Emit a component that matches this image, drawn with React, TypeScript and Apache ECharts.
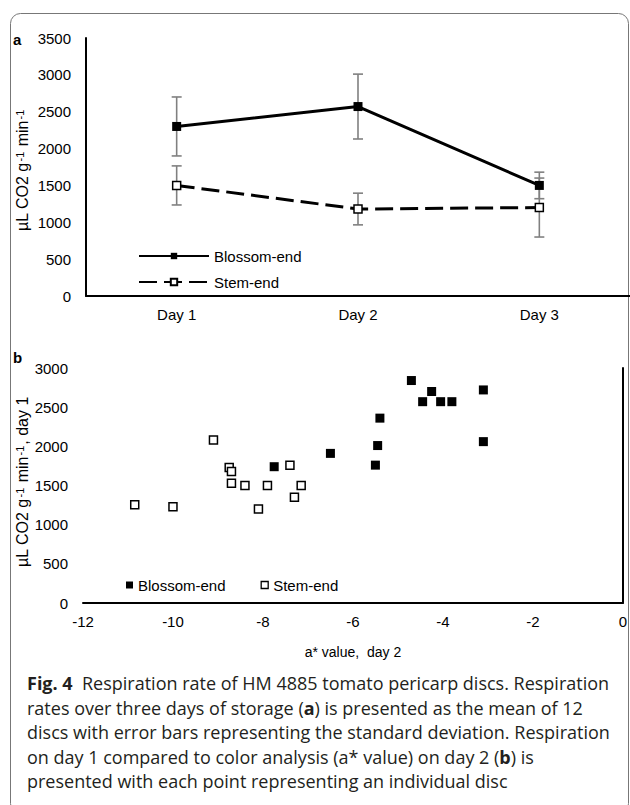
import React, { useEffect, useRef } from "react";
import * as echarts from "echarts";

// ---------- data (panel a) ----------
const days = ["Day 1", "Day 2", "Day 3"];
const blossomMean = [2300, 2570, 1500];
const blossomSd = [400, 440, 180];
const stemMean = [1500, 1180, 1200];
const stemSd = [265, 215, 400];
const yMinA = 0;
const yMaxA = 3500;
const yStepA = 500;

// ---------- data (panel b) ----------
const blossomAstar = [-7.75, -6.5, -5.5, -5.45, -5.4, -4.7, -4.45, -4.25, -4.05, -3.8, -3.1, -3.1];
const blossomResp = [1740, 1910, 1760, 2010, 2360, 2840, 2570, 2700, 2570, 2570, 2720, 2060];
const stemAstar = [-10.85, -10.0, -9.1, -8.75, -8.7, -8.7, -8.4, -8.1, -7.9, -7.4, -7.3, -7.15];
const stemResp = [1255, 1230, 2080, 1730, 1680, 1530, 1500, 1200, 1500, 1760, 1350, 1500];
const xMinB = -12;
const xMaxB = 0;
const xStepB = 2;
const yMinB = 0;
const yMaxB = 3000;
const yStepB = 500;

const captionLines = [
  "{b|Fig. 4}{r|  Respiration rate of HM 4885 tomato pericarp discs. Respiration}",
  "{r|rates over three days of storage (}{b|a}{r|) is presented as the mean of 12}",
  "{r|discs with error bars representing the standard deviation. Respiration}",
  "{r|on day 1 compared to color analysis (a* value) on day 2 (}{b|b}{r|) is}",
  "{r|presented with each point representing an individual disc}",
];

const FONT = "Liberation Sans, Arial, sans-serif";
const CAP_FONT = "Open Sans, Noto Sans, sans-serif";

export default function App() {
  const ref = useRef<HTMLDivElement>(null);

  useEffect(() => {
    document.body.style.margin = "0";
    if (!ref.current) return;
    const chart = echarts.init(ref.current, undefined, { renderer: "svg" });

    const errData = (mean: number[], sd: number[]) =>
      mean.map((m, i) => [i, m - sd[i], m + sd[i]]);

    const renderErr = (params: any, api: any) => {
      const x = api.value(0);
      const lo = api.coord([x, api.value(1)]);
      const hi = api.coord([x, api.value(2)]);
      const hw = 5;
      const st = { stroke: "#808080", lineWidth: 1.6 };
      return {
        type: "group",
        children: [
          { type: "line", shape: { x1: lo[0], y1: lo[1], x2: hi[0], y2: hi[1] }, style: st },
          { type: "line", shape: { x1: lo[0] - hw, y1: lo[1], x2: lo[0] + hw, y2: lo[1] }, style: st },
          { type: "line", shape: { x1: hi[0] - hw, y1: hi[1], x2: hi[0] + hw, y2: hi[1] }, style: st },
        ],
      };
    };

    const axisLine = { show: true, lineStyle: { color: "#000", width: 2 } };
    const labelStyle = { fontSize: 15, fontFamily: FONT, color: "#000" };
    const plain = (v: number) => String(v);

    const capRich = {
      b: { fontFamily: CAP_FONT, fontWeight: "bold", fontSize: 18, fill: "#231f20", lineHeight: 24.5 },
      r: { fontFamily: CAP_FONT, fontSize: 18, fill: "#231f20", lineHeight: 24.5 },
    };

    const titleRich = {
      n: { fontFamily: FONT, fontSize: 16, fill: "#000" },
      s: { fontFamily: FONT, fontSize: 11, fill: "#000", verticalAlign: "top", padding: [0, 1, 0, 1] },
    };

    const option: any = {
      animation: false,
      backgroundColor: "#fff",
      grid: [
        { left: 86, top: 38, width: 544, height: 258 },
        { left: 83, top: 368, width: 544, height: 235 },
      ],
      xAxis: [
        {
          gridIndex: 0,
          type: "category",
          data: days,
          boundaryGap: true,
          axisLine,
          axisTick: { show: false },
          axisLabel: { ...labelStyle, margin: 11 },
          splitLine: { show: false },
        },
        {
          gridIndex: 1,
          type: "value",
          min: xMinB,
          max: xMaxB,
          interval: xStepB,
          axisLine,
          axisTick: { show: false },
          axisLabel: { ...labelStyle, margin: 11, formatter: plain },
          splitLine: { show: false },
          name: "a* value,  day 2",
          nameLocation: "middle",
          nameGap: 42,
          nameTextStyle: { fontSize: 14, fontFamily: FONT, color: "#000" },
        },
      ],
      yAxis: [
        {
          gridIndex: 0,
          type: "value",
          min: yMinA,
          max: yMaxA,
          interval: yStepA,
          axisLine,
          axisTick: { show: false },
          axisLabel: { ...labelStyle, margin: 15, formatter: plain },
          splitLine: { show: false },
        },
        {
          gridIndex: 1,
          type: "value",
          min: yMinB,
          max: yMaxB,
          interval: yStepB,
          axisLine,
          axisTick: { show: false },
          axisLabel: { ...labelStyle, margin: 15, formatter: plain },
          splitLine: { show: false },
        },
      ],
      legend: [
        {
          data: ["Blossom-end", "Stem-end"],
          orient: "vertical",
          left: 138,
          top: 248,
          padding: 0,
          itemWidth: 70,
          itemHeight: 8,
          itemGap: 10,
          selectedMode: false,
          textStyle: { fontSize: 15, fontFamily: FONT, color: "#000", lineHeight: 16 },
        },
        {
          data: [
            { name: "b:Blossom-end", icon: "rect", itemStyle: { color: "#000", borderWidth: 0 } },
            { name: "b:Stem-end", icon: "rect", itemStyle: { color: "#fff", borderColor: "#000", borderWidth: 1.3 } },
          ],
          orient: "horizontal",
          left: 126,
          top: 577,
          padding: 0,
          itemWidth: 7,
          itemHeight: 7,
          itemGap: 35,
          selectedMode: false,
          formatter: (n: string) => n.replace("b:", ""),
          textStyle: { fontSize: 15, fontFamily: FONT, color: "#000", lineHeight: 16 },
        },
      ],
      series: [
        {
          type: "custom",
          name: "errB",
          xAxisIndex: 0,
          yAxisIndex: 0,
          data: errData(blossomMean, blossomSd),
          encode: { x: 0, y: [1, 2] },
          renderItem: renderErr,
          z: 1,
          silent: true,
        },
        {
          type: "custom",
          name: "errS",
          xAxisIndex: 0,
          yAxisIndex: 0,
          data: errData(stemMean, stemSd),
          encode: { x: 0, y: [1, 2] },
          renderItem: renderErr,
          z: 1,
          silent: true,
        },
        {
          type: "line",
          name: "Blossom-end",
          xAxisIndex: 0,
          yAxisIndex: 0,
          data: blossomMean,
          symbol: "rect",
          symbolSize: 9,
          lineStyle: { color: "#000", width: 3 },
          itemStyle: { color: "#000" },
          z: 3,
        },
        {
          type: "line",
          name: "Stem-end",
          xAxisIndex: 0,
          yAxisIndex: 0,
          data: stemMean,
          symbol: "rect",
          symbolSize: 8,
          lineStyle: { color: "#000", width: 3, type: [18, 7] },
          itemStyle: { color: "#fff", borderColor: "#000", borderWidth: 1.5 },
          z: 3,
        },
        {
          type: "scatter",
          name: "b:Blossom-end",
          xAxisIndex: 1,
          yAxisIndex: 1,
          data: blossomAstar.map((a, i) => [a, blossomResp[i]]),
          symbol: "rect",
          symbolSize: 9,
          itemStyle: { color: "#000", opacity: 1 },
        },
        {
          type: "scatter",
          name: "b:Stem-end",
          xAxisIndex: 1,
          yAxisIndex: 1,
          data: stemAstar.map((a, i) => [a, stemResp[i]]),
          symbol: "rect",
          symbolSize: 8,
          itemStyle: { color: "#fff", borderColor: "#000", borderWidth: 1.5, opacity: 1 },
        },
      ],
      graphic: [
        {
          type: "rect",
          shape: { x: 10.5, y: 13.5, width: 618, height: 800, r: 10 },
          style: { fill: "none", stroke: "#777", lineWidth: 1 },
          silent: true,
          z: -10,
        },
        {
          type: "text",
          x: 13,
          y: 39,
          style: { text: "a", font: `bold 15px ${FONT}`, fill: "#000", verticalAlign: "middle" },
        },
        {
          type: "text",
          x: 13,
          y: 357,
          style: { text: "b", font: `bold 15px ${FONT}`, fill: "#000", verticalAlign: "middle" },
        },
        {
          type: "text",
          x: 22,
          y: 170,
          rotation: Math.PI / 2,
          style: {
            text: "{n|µL CO2 g}{s|-1}{n| min}{s|-1}",
            rich: titleRich,
            align: "center",
            verticalAlign: "middle",
          },
        },
        {
          type: "text",
          x: 22,
          y: 482,
          rotation: Math.PI / 2,
          style: {
            text: "{n|µL CO2 g}{s|-1}{n| min}{s|-1}{n|, day 1}",
            rich: titleRich,
            align: "center",
            verticalAlign: "middle",
          },
        },
        {
          type: "text",
          x: 27,
          y: 671,
          style: {
            text: captionLines.join("\n"),
            rich: capRich,
            verticalAlign: "top",
            align: "left",
          },
        },
      ],
    };

    chart.setOption(option);
    return () => chart.dispose();
  }, []);

  return (
    <div
      ref={ref}
      style={{ position: "absolute", left: 0, top: 0, width: 630, height: 805, background: "#fff" }}
    />
  );
}
